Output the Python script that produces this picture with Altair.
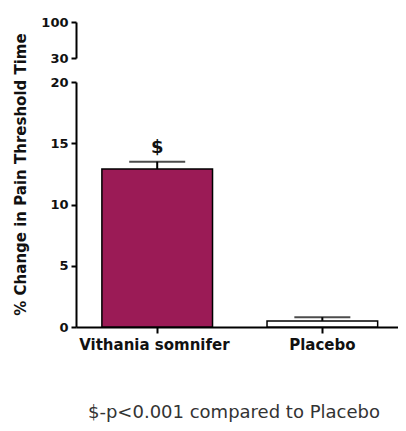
import altair as alt
import pandas as pd

groups = ["Vithania somnifera", "Placebo"]
shown_labels = ["Vithania somnifer", "Placebo"]
means = [12.9, 0.5]
errs = [0.6, 0.3]
sig = ["$", ""]
fills = ["#9b1b56", "#ffffff"]
upper_ticks = [30, 100]
lower_ticks = [0, 5, 10, 15, 20]
footnote = "$-p<0.001 compared to Placebo"

df = pd.DataFrame({"group": groups, "mean": means, "err": errs, "sig": sig, "fill": fills})
df["hi"] = df["mean"] + df["err"]

FONT = "DejaVu Sans"
W = 322
xscale = alt.Scale(domain=groups, paddingInner=0.33, paddingOuter=0.14, align=0.56)

axis_common = dict(
    domainColor="black", domainWidth=2, tickColor="black", tickWidth=2,
    labelFont=FONT, labelFontWeight="bold", labelColor="#111",
    grid=False,
)

top = alt.Chart(pd.DataFrame({"v": upper_ticks})).mark_point(opacity=0).encode(
    y=alt.Y("v:Q", scale=alt.Scale(domain=[30, 100]),
            axis=alt.Axis(values=upper_ticks, title=None, labelFontSize=13, tickSize=5,
                          labelPadding=3, **axis_common))
).properties(width=W, height=36)

first = f"datum.value == '{groups[0]}'"
base = alt.Chart(df)
x_enc = alt.X("group:N", scale=xscale, sort=groups,
              axis=alt.Axis(title=None, labelAngle=0, tickSize=6,
                            labelExpr=f"{first} ? '{shown_labels[0]}' : datum.label",
                            labelFontSize=15,
                            labelAlign={"condition": {"test": first, "value": "left"}, "value": "center"},
                            labelOffset={"condition": {"test": first, "value": -78}, "value": 0},
                            labelPadding=4, **axis_common))
y_scale = alt.Scale(domain=[0, 20])

bars = base.mark_bar(stroke="black", strokeWidth=1.5).encode(
    x=x_enc,
    y=alt.Y("mean:Q", scale=y_scale,
            axis=alt.Axis(values=lower_ticks, title="% Change in Pain Threshold Time",
                          labelFontSize=13, tickSize=5, labelPadding=3,
                          titleFont=FONT, titleFontSize=15, titleFontWeight="bold", titleColor="#111",
                          titlePadding=21, titleY=92, **axis_common)),
    fill=alt.Fill("fill:N", scale=None),
)
err = base.mark_rule(color="black", strokeWidth=2).encode(
    x=alt.X("group:N", scale=xscale, sort=groups),
    y=alt.Y("mean:Q", scale=y_scale),
    y2="hi:Q",
)
caps = base.mark_tick(color="black", thickness=2, size=56).encode(
    x=alt.X("group:N", scale=xscale, sort=groups),
    y=alt.Y("hi:Q", scale=y_scale),
)
txt = base.mark_text(font=FONT, fontSize=18, fontWeight="bold", color="#111", dy=-14).encode(
    x=alt.X("group:N", scale=xscale, sort=groups),
    y=alt.Y("hi:Q", scale=y_scale),
    text="sig:N",
)
bottom = alt.layer(bars, err, caps, txt).properties(width=W, height=245)

chart = alt.vconcat(top, bottom, spacing=24, bounds="flush").properties(
    title=alt.TitleParams(footnote, orient="bottom", anchor="middle", offset=52, dx=28,
                          font=FONT, fontSize=18, fontWeight="normal", color="#333"),
    padding={"left": 5, "top": 8, "right": 0, "bottom": 0},
).configure_view(stroke=None)

chart.save("out.html", embed_options={"renderer": "svg", "actions": False})
